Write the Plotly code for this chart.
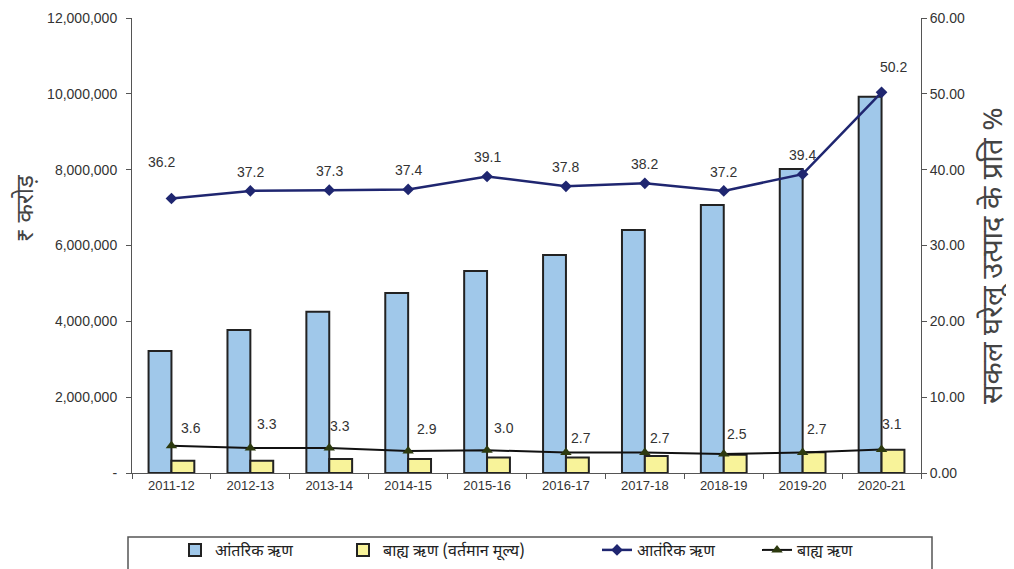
import plotly.graph_objects as go

years = ["2011-12", "2012-13", "2013-14", "2014-15", "2015-16",
         "2016-17", "2017-18", "2018-19", "2019-20", "2020-21"]
internal_debt = [3220000, 3770000, 4250000, 4750000, 5330000,
                 5750000, 6410000, 7070000, 8020000, 9920000]
external_debt = [320000, 320000, 370000, 370000, 410000,
                 410000, 450000, 480000, 550000, 610000]
internal_pct = [36.2, 37.2, 37.3, 37.4, 39.1, 37.8, 38.2, 37.2, 39.4, 50.2]
external_pct = [3.6, 3.3, 3.3, 2.9, 3.0, 2.7, 2.7, 2.5, 2.7, 3.1]

left_tickvals = [0, 2000000, 4000000, 6000000, 8000000, 10000000, 12000000]
left_ticktext = ["-", "2,000,000", "4,000,000", "6,000,000", "8,000,000",
                 "10,000,000", "12,000,000"]
right_tickvals = [0, 10, 20, 30, 40, 50, 60]

names = ["आंतरिक ऋण", "बाह्य ऋण (वर्तमान मूल्य)", "आतंरिक ऋण", "बाह्य ऋण"]
left_title = "₹ करोड़"
right_title = "सकल घरेलू उत्पाद के प्रति %"

# label offsets (pixels) for data labels
int_xshift = [-10, 0, 0, 0, 0, 0, 0, 0, 0, 12]
int_yshift = [36, 19, 19, 19, 19, 19, 19, 19, 19, 25]
ext_xshift = [20, 17, 11, 19, 17, 15, 15, 13, 14, 10]
ext_yshift = [18, 24, 22, 22, 22, 15, 15, 20, 24, 25]

# page offset (browser body margin)
OFF = 8
W, H = 1014 - OFF, 569 - OFF
# plot area in reference pixels: x 132..921, y 18..473
PL, PR, PT, PB = 132, 921, 18, 473
ML, MT = PL - OFF, PT - OFF
MR, MB = (1014 - PR), (569 - PB)
PW, PH = PR - PL, PB - PT


def px_x(px):
    return (px - PL) / PW


def px_y(py):
    return (PB - py) / PH


def cx(px):
    return (px - OFF) / W


def cy(py):
    return 1 - (py - OFF) / H


NUM_FONT = "Liberation Sans, Arial, sans-serif"
DEV_FONT = "Noto Sans Devanagari, Lohit Devanagari, Mukta, FreeSans, sans-serif"

fig = go.Figure()
fig.add_trace(go.Bar(
    x=years, y=internal_debt, name=names[0], legend="legend",
    marker=dict(color="#A0C8EA", line=dict(color="#222222", width=2)),
    yaxis="y",
))
fig.add_trace(go.Bar(
    x=years, y=external_debt, name=names[1], legend="legend2",
    marker=dict(color="#F8F39A", line=dict(color="#222222", width=2)),
    yaxis="y",
))
fig.add_trace(go.Scatter(
    x=years, y=internal_pct, name=names[2], legend="legend3", yaxis="y2",
    mode="lines+markers",
    line=dict(color="#1F2670", width=2.5),
    marker=dict(symbol="diamond", size=9, color="#1F2670"),
))
fig.add_trace(go.Scatter(
    x=years, y=external_pct, name=names[3], legend="legend4", yaxis="y2",
    mode="lines+markers",
    line=dict(color="#111111", width=2),
    marker=dict(symbol="triangle-up", size=10, color="#2D3A0F"),
))

annotations = []
for i, (yr, v) in enumerate(zip(years, internal_pct)):
    annotations.append(dict(x=yr, y=v, xref="x", yref="y2", text=f"{v:.1f}",
                            showarrow=False, xshift=int_xshift[i], yshift=int_yshift[i],
                            font=dict(family=NUM_FONT, size=14, color="#333333")))
for i, (yr, v) in enumerate(zip(years, external_pct)):
    annotations.append(dict(x=yr, y=v, xref="x", yref="y2", text=f"{v:.1f}",
                            showarrow=False, xshift=ext_xshift[i], yshift=ext_yshift[i],
                            font=dict(family=NUM_FONT, size=14, color="#333333")))

annotations.append(dict(x=px_x(27), y=px_y(208), xref="paper", yref="paper",
                        xanchor="center", yanchor="middle",
                        text=left_title, showarrow=False, textangle=-90,
                        font=dict(family=DEV_FONT, size=24, color="#444444")))
annotations.append(dict(x=px_x(995), y=px_y(256), xref="paper", yref="paper",
                        xanchor="center", yanchor="middle",
                        text=right_title, showarrow=False, textangle=-90,
                        font=dict(family=DEV_FONT, size=29, color="#444444")))

legend_common = dict(orientation="h", xref="container", yref="container",
                     yanchor="top", xanchor="left", bgcolor="rgba(0,0,0,0)",
                     font=dict(family=DEV_FONT, size=16, color="#222222"),
                     itemwidth=30)

leg_x = [175, 343, 597, 757]
legends = {}
for k, lx in zip(["legend", "legend2", "legend3", "legend4"], leg_x):
    legends[k] = dict(legend_common, x=cx(lx), y=cy(533))

fig.update_layout(
    width=W, height=H,
    margin=dict(l=ML, r=MR, t=MT, b=MB, autoexpand=False),
    paper_bgcolor="white", plot_bgcolor="white",
    showlegend=True,
    barmode="group", bargap=0.42, bargroupgap=0,
    xaxis=dict(type="category", range=[-0.5, len(years) - 0.5],
               showline=True, linecolor="#555555", linewidth=1,
               ticks="outside", tickson="boundaries", ticklen=5, tickcolor="#555555",
               tickfont=dict(family=NUM_FONT, size=13, color="#333333"),
               showgrid=False, zeroline=False),
    yaxis=dict(range=[0, 12000000], tickvals=left_tickvals, ticktext=left_ticktext,
               showline=True, linecolor="#555555", linewidth=1, ticks="outside",
               ticklen=5, tickcolor="#555555", showgrid=False, zeroline=False,
               ticklabelstandoff=6,
               tickfont=dict(family=NUM_FONT, size=14, color="#333333")),
    yaxis2=dict(range=[0, 60], tickvals=right_tickvals, tickformat=".2f",
                overlaying="y", side="right", showline=True, linecolor="#555555",
                linewidth=1, ticks="outside", ticklen=5, tickcolor="#555555",
                showgrid=False, zeroline=False,
                tickfont=dict(family=NUM_FONT, size=14, color="#333333")),
    annotations=annotations,
    shapes=[dict(type="rect", xref="paper", yref="paper",
                 x0=px_x(128), x1=px_x(932), y0=px_y(537), y1=px_y(600),
                 line=dict(color="#555555", width=1.5), fillcolor="rgba(0,0,0,0)")],
    **legends,
)

fig.write_html("out.html")
